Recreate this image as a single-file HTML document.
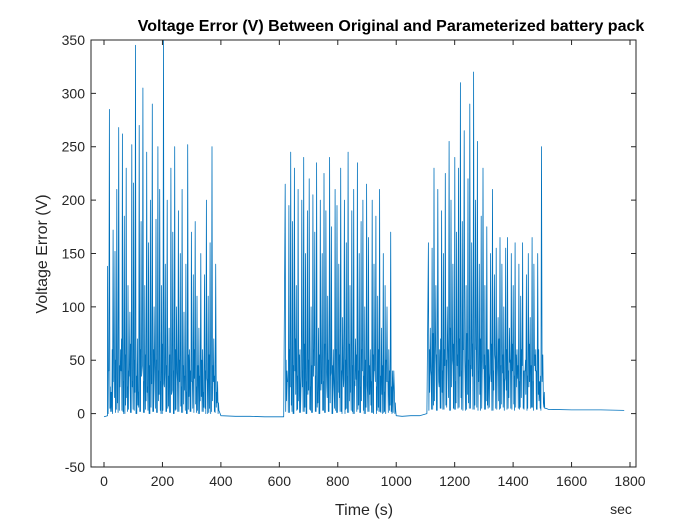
<!DOCTYPE html>
<html><head><meta charset="utf-8"><style>
body{margin:0;background:#fff;}
svg{display:block;font-family:"Liberation Sans",Arial,sans-serif;}
</style></head><body>
<svg id="chart" width="700" height="525" viewBox="0 0 700 525">
<rect width="700" height="525" fill="#fff"/>
<g id="plot"></g>
<g id="axes"></g>
</svg>
<script>
const xTicks=[0,200,400,600,800,1000,1200,1400,1600,1800];
const yTicks=[-50,0,50,100,150,200,250,300,350];
const burstStarts=[12,620,1110];
const burstEnds=[395,1000,1510];
const peaks1=[138,285,20,172,152,210,268,60,262,185,230,120,95,252,216,345,70,270,180,305,120,245,160,200,290,100,182,250,210,120,350,140,200,80,230,170,250,100,190,150,210,95,140,252,60,170,130,180,110,80,150,60,130,200,110,160,250,70,140,30];
const troughs1=[0,5,2,30,1,10,3,40,2,0,15,4,1,25,3,0,8,2,35,1,4,20,0,6,2,45,1,12,3,0,28,2,5,1,18,0,3,38,2,7,1,22,0,4,2,30,1,9,3,0,16,2,5,33,1,0,12,2,6,0];
const mids1=[40,25,60,35,50,20,45,70,30,55,25,40,65,30,50,35,20,60,40,30,55,25,45,35,60,20,50,40,30,65,25,45,35,55,20,40,60,30,50,25,45,35,20,55,40,30,60,25,45,35,50,20,40,30,55,25,45,35,20,10];
const peaks2=[215,40,195,245,180,230,120,210,60,200,240,150,190,220,100,205,170,235,80,200,150,225,190,110,240,175,60,210,195,140,230,90,200,160,245,120,190,210,70,235,150,180,200,100,215,165,60,200,140,185,110,210,80,150,120,100,60,170,40,20];
const troughs2=[2,30,1,8,0,40,3,12,1,25,2,0,18,4,1,35,2,6,0,22,3,1,45,2,10,0,28,3,1,15,2,38,0,5,1,20,2,0,32,4,1,12,3,0,26,2,8,1,40,0,6,2,18,1,0,30,3,2,1,0];
const mids2=[50,30,60,25,45,70,35,55,20,40,65,30,50,25,45,60,35,20,55,40,30,65,25,50,35,45,20,60,30,55,40,25,50,35,65,20,45,30,55,40,25,60,35,50,20,45,30,55,40,25,60,35,45,20,50,30,40,25,20,10];
const peaks3=[160,80,155,230,120,210,60,190,150,225,100,255,200,140,240,170,230,310,180,265,120,220,290,160,320,200,255,140,185,230,120,175,60,150,210,130,155,90,165,140,100,155,165,80,150,120,160,60,140,110,160,40,130,150,90,165,140,60,150,30,250,10];
const troughs3=[3,40,4,12,3,55,5,20,4,8,60,3,25,5,4,45,6,15,3,50,4,10,5,35,4,60,3,18,5,42,4,8,6,30,3,55,4,12,5,38,3,22,5,48,4,9,6,33,4,15,5,40,3,25,5,6,45,4,18,5,30,6];
const mids3=[60,35,75,45,55,30,70,40,60,50,35,80,45,65,30,55,70,40,60,35,75,50,45,65,30,60,40,70,35,55,45,60,30,65,40,50,35,70,45,55,30,60,40,50,65,35,55,45,30,60,40,50,35,65,45,30,55,40,60,35,45,20];
const baseTimes=[0,12,400,450,500,550,615,1000,1020,1050,1080,1105,1512,1520,1600,1700,1780];
const baseValues=[-3,-2,-2,-2.5,-2.5,-3,-3,-2,-2.5,-2,-2,0,5,4,3.5,3.5,3];

const L=91,R=636,T=40,B=467;
const X=t=>104+(t-0)*(630-104)/1800;
const Y=v=>413.6+(v-0)*(40-413.6)/350;
const NS="http://www.w3.org/2000/svg";
function mk(tag,attrs,parent){const e=document.createElementNS(NS,tag);for(const k in attrs)e.setAttribute(k,attrs[k]);parent.appendChild(e);return e;}
const plot=document.getElementById('plot'),axes=document.getElementById('axes');

const pts=[];
function burst(start,end,pk,tr,md){const dt=(end-start)/pk.length;for(let i=0;i<pk.length;i++){
  pts.push([start+i*dt,pk[i]]);pts.push([start+i*dt+dt*0.3,tr[i]]);
  pts.push([start+i*dt+dt*0.5,md[i]]);pts.push([start+i*dt+dt*0.7,tr[(i+7)%tr.length]]);}}
function addBase(idx){idx.forEach(i=>pts.push([baseTimes[i],baseValues[i]]));}
addBase([0,1]);burst(burstStarts[0],burstEnds[0],peaks1,troughs1,mids1);
addBase([2,3,4,5,6]);burst(burstStarts[1],burstEnds[1],peaks2,troughs2,mids2);
addBase([7,8,9,10,11]);burst(burstStarts[2],burstEnds[2],peaks3,troughs3,mids3);
addBase([12,13,14,15,16]);
const line=mk('polyline',{points:pts.map(p=>X(p[0]).toFixed(1)+','+Y(p[1]).toFixed(1)).join(' '),fill:'none',stroke:'#0072BD','stroke-width':0.8,'stroke-linejoin':'round'},plot);



const box=mk('rect',{x:L,y:T,width:R-L,height:B-T,fill:'none',stroke:'#262626','stroke-width':1},axes);


xTicks.forEach(t=>{const x=X(t);
 mk('line',{x1:x,x2:x,y1:B,y2:B-5,stroke:'#262626'},axes);mk('line',{x1:x,x2:x,y1:T,y2:T+5,stroke:'#262626'},axes);
 const tx=mk('text',{x:x,y:B+19,'text-anchor':'middle','font-size':14,fill:'#262626'},axes);tx.textContent=t;
 
 });
yTicks.forEach(v=>{const y=Y(v);
 mk('line',{x1:L,x2:L+5,y1:y,y2:y,stroke:'#262626'},axes);mk('line',{x1:R,x2:R-5,y1:y,y2:y,stroke:'#262626'},axes);
 const tx=mk('text',{x:L-6,y:y+5,'text-anchor':'end','font-size':14,fill:'#262626'},axes);tx.textContent=v;
 
 });
const tt=mk('text',{x:391,y:31,'text-anchor':'middle','font-size':16,'font-weight':'bold',fill:'#000'},axes);tt.textContent='Voltage Error (V) Between Original and Parameterized battery pack';


const xl=mk('text',{x:364,y:515,'text-anchor':'middle','font-size':16,fill:'#262626'},axes);xl.textContent='Time (s)';


const yl=mk('text',{x:47,y:254,'text-anchor':'middle','font-size':16,fill:'#262626',transform:'rotate(-90 47 254)'},axes);yl.textContent='Voltage Error (V)';


const su=mk('text',{x:621,y:514,'text-anchor':'middle','font-size':14,fill:'#262626'},axes);su.textContent='sec';


</script>
</body></html>
